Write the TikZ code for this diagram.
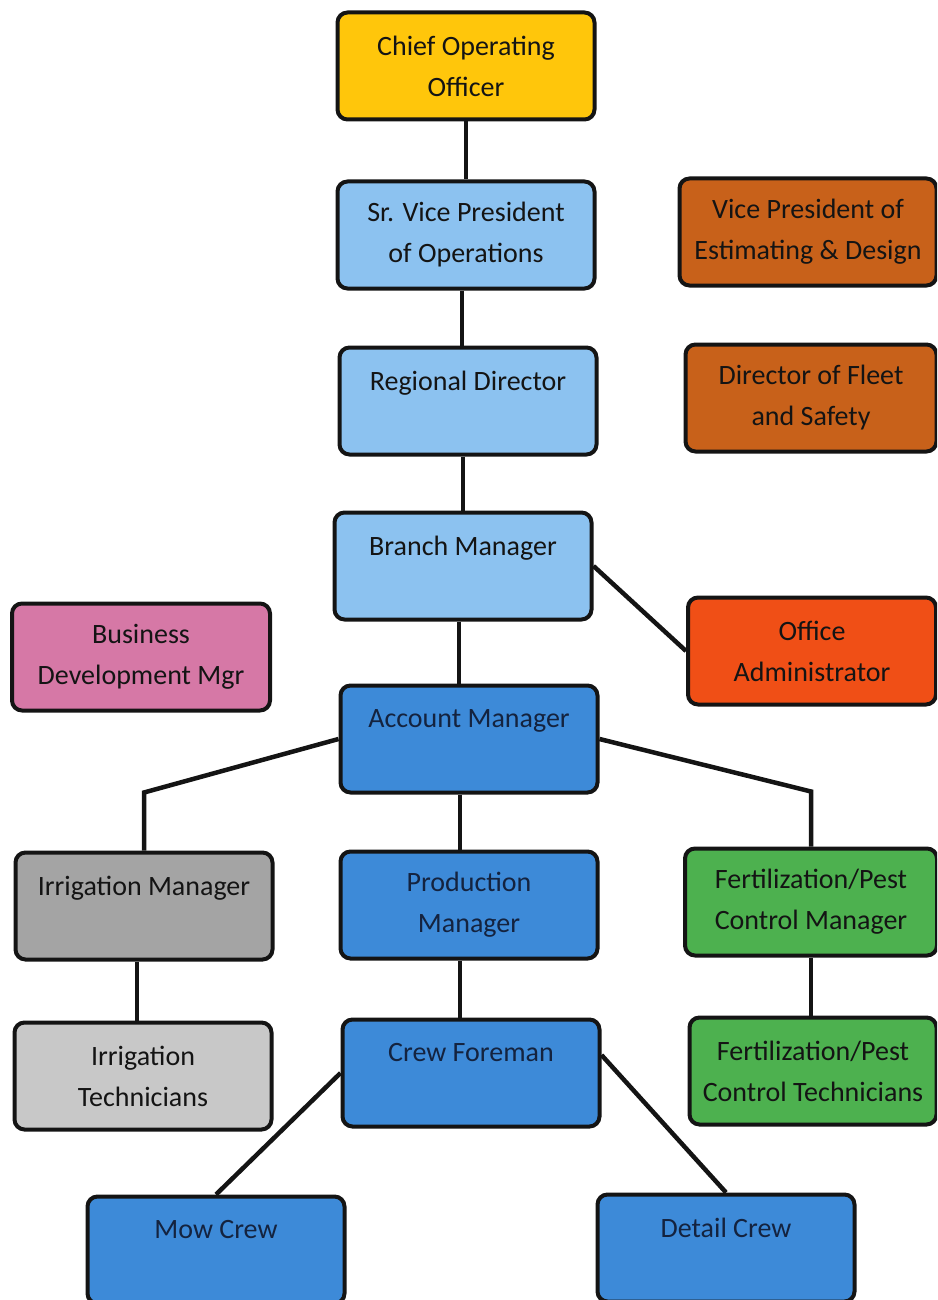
\documentclass[tikz,border=0pt]{standalone}
\usepackage{fontspec}
\setmainfont{Carlito}
\definecolor{cooyellow}{HTML}{FFC60B}
\definecolor{skyblue}{HTML}{8CC2F0}
\definecolor{midblue}{HTML}{3D8AD8}
\definecolor{rust}{HTML}{C8611A}
\definecolor{flame}{HTML}{F04F16}
\definecolor{rosepink}{HTML}{D678A6}
\definecolor{slate}{HTML}{A4A4A4}
\definecolor{silver}{HTML}{C8C8C8}
\definecolor{leaf}{HTML}{4DB14F}
\definecolor{ink}{HTML}{141414}
\definecolor{navy}{HTML}{14233F}

\begin{document}
\begin{tikzpicture}[x=1pt,y=-1pt]

  % Set default font and box looks
  \tikzset{
    every node/.style={font=\fontsize{28}{41}\selectfont},
    orgbox/.style={draw=ink, line width=4pt, rounded corners=10pt,
      minimum width=257pt, minimum height=107pt, align=center,
      inner sep=0pt, text=ink},
    link/.style={draw=ink, line width=4.5pt}
  }

  \clip (0,0) rectangle (937,1300);

  % Main column
  \node[orgbox, fill=cooyellow] (coo) at (466,66) {Chief Operating\\Officer};
  \node[orgbox, fill=skyblue] (srvp) at (466,235) {Sr. Vice President\\of Operations};
  \node[orgbox, fill=skyblue] (regdir) at (468,401) {Regional Director\\~};
  \node[orgbox, fill=skyblue] (branch) at (463,566) {Branch Manager\\~};
  \node[orgbox, fill=midblue, text=navy] (acct) at (469,739) {Account Manager\\~};
  \node[orgbox, fill=midblue, text=navy] (prodmgr) at (469,905) {Production\\Manager};
  \node[orgbox, fill=midblue, text=navy] (crewfore) at (471,1073) {Crew Foreman\\~};

  % Side boxes
  \node[orgbox, fill=rust] (vpest) at (808,232) {Vice President of\\Estimating \& Design};
  \node[orgbox, fill=rust, minimum width=251pt] (fleet) at (811,398) {Director of Fleet\\and Safety};
  \node[orgbox, fill=flame, minimum width=248pt] (office) at (812,651) {Office\\Administrator};
  \node[orgbox, fill=rosepink, minimum width=258pt] (bizdev) at (141,657) {Business\\Development Mgr};

  % Lower branches
  \node[orgbox, fill=slate] (irrmgr) at (144,906) {Irrigation Manager\\~};
  \node[orgbox, fill=silver] (irrtech) at (143,1076) {Irrigation\\Technicians};
  \node[orgbox, fill=leaf, minimum width=252pt] (fertmgr) at (811,902) {Fertilization/Pest\\Control Manager};
  \node[orgbox, fill=leaf, minimum width=247pt] (ferttech) at (813,1071) {Fertilization/Pest\\Control Technicians};

  % Crews
  \node[orgbox, fill=midblue, text=navy] (mow) at (216,1250) {Mow Crew\\~};
  \node[orgbox, fill=midblue, text=navy] (detail) at (726,1248) {Detail Crew\\~};

  % Connectors
  \draw[link] (coo.south) -- (coo.south |- srvp.north);
  \draw[link] ([xshift=-4pt]srvp.south) -- ([xshift=-4pt]srvp.south |- regdir.north);
  \draw[link] ([xshift=-3pt]srvp.south |- regdir.south) -- ([xshift=-3pt]srvp.south |- branch.north);
  \draw[link] ([xshift=-4pt]branch.south) -- ([xshift=-4pt]branch.south |- acct.north);
  \draw[link] (branch.east) -- (office.west);
  \draw[link] ([xshift=-9pt]acct.south) -- ([xshift=-9pt]acct.south |- prodmgr.north);
  \draw[link] ([xshift=-9pt]prodmgr.south) -- ([xshift=-9pt]prodmgr.south |- crewfore.north);
  \draw[link] (acct.west) -- ([yshift=58pt]irrmgr.north) -- (irrmgr.north);
  \draw[link] (acct.east) -- ([yshift=55pt]fertmgr.north) -- (fertmgr.north);
  \draw[link] ([xshift=-7pt]irrmgr.south) -- ([xshift=-7pt]irrmgr.south |- irrtech.north);
  \draw[link] (fertmgr.south) -- (fertmgr.south |- ferttech.north);
  \draw[link] (crewfore.west) -- (mow.north);
  \draw[link] ([yshift=18pt]crewfore.east) -- (detail.north);

\end{tikzpicture}
\end{document}
